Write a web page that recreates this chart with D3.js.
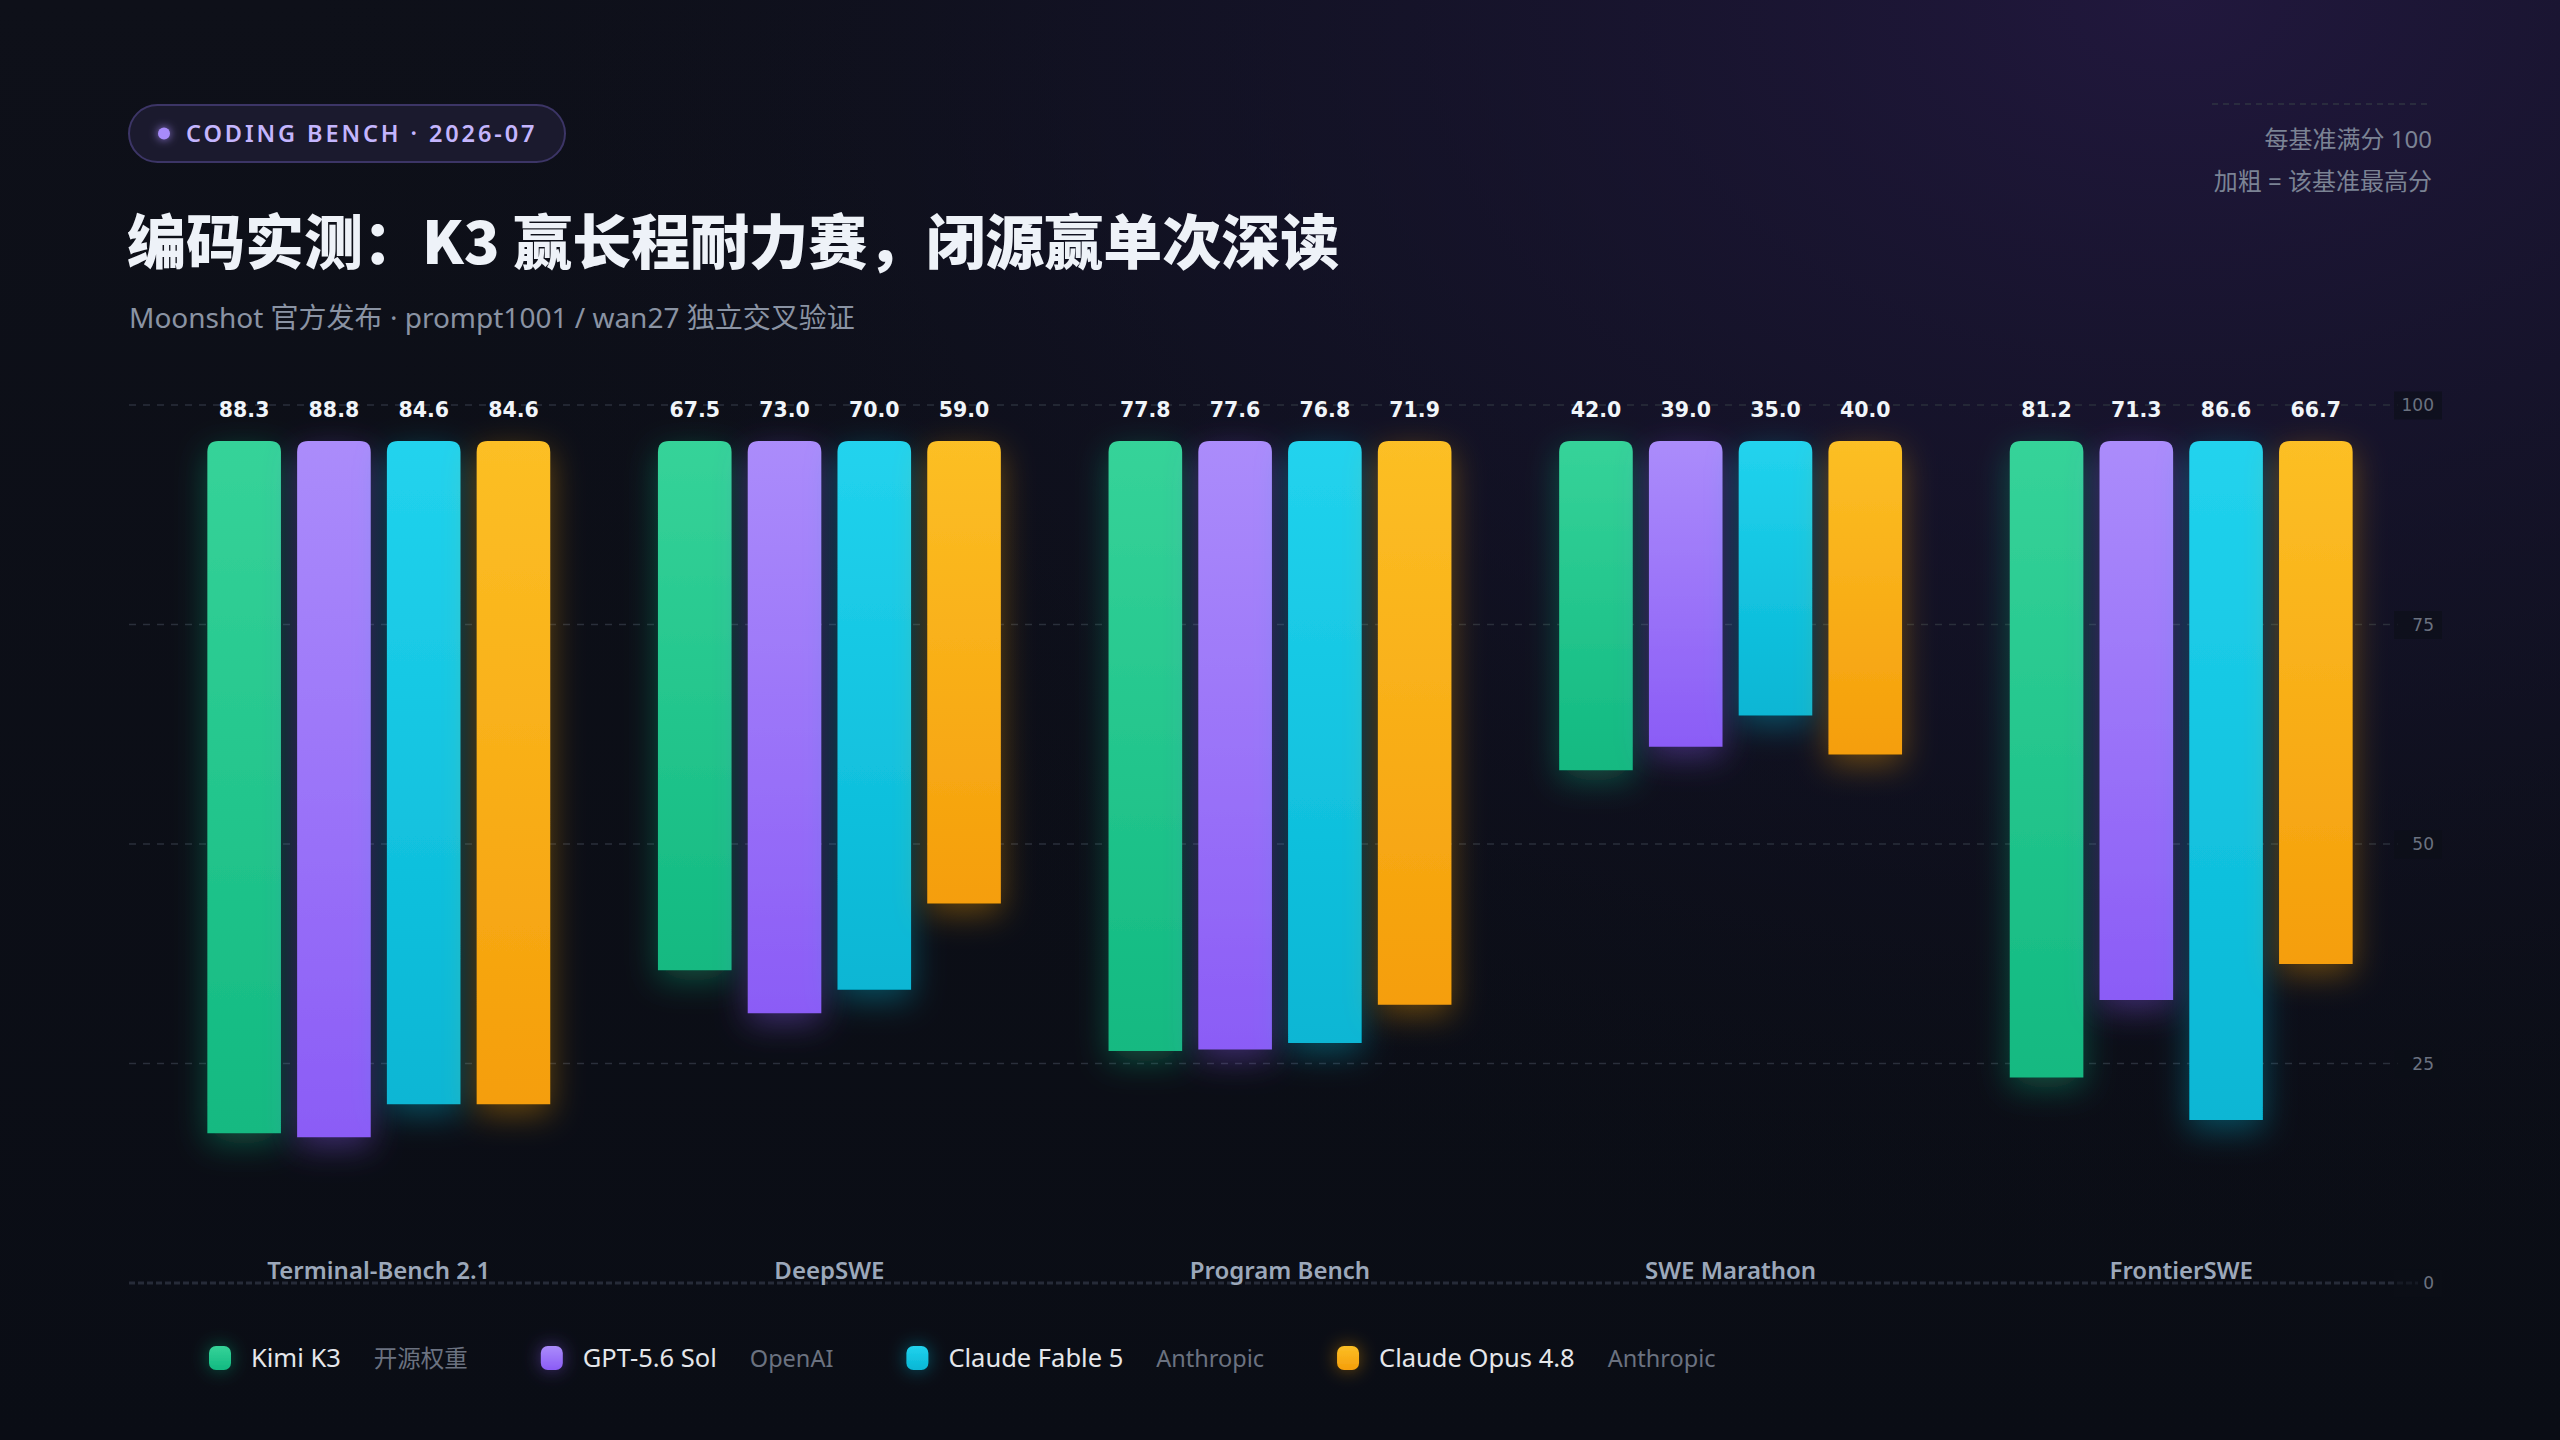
<!DOCTYPE html>
<html>
<head>
<meta charset="utf-8">
<script src="https://cdn.jsdelivr.net/npm/d3@7/dist/d3.min.js"></script>
<style>
html,body{margin:0;padding:0;background:#0b0e16;overflow:hidden;}
svg{display:block;}
</style>
</head>
<body>
<svg id="chart" width="2560" height="1440"></svg>
<script>
// ---------- data ----------
const benchmarks = ["Terminal-Bench 2.1", "DeepSWE", "Program Bench", "SWE Marathon", "FrontierSWE"];
const models = ["Kimi K3", "GPT-5.6 Sol", "Claude Fable 5", "Claude Opus 4.8"];
const orgs = ["开源权重", "OpenAI", "Anthropic", "Anthropic"];
const kimiK3 = [88.3, 67.5, 77.8, 42.0, 81.2];
const gpt56Sol = [88.8, 73.0, 77.6, 39.0, 71.3];
const claudeFable5 = [84.6, 70.0, 76.8, 35.0, 86.6];
const claudeOpus48 = [84.6, 59.0, 71.9, 40.0, 66.7];
const yTicks = [0, 25, 50, 75, 100];
const seriesValues = [kimiK3, gpt56Sol, claudeFable5, claudeOpus48];

const colorsTop = ["#36d399", "#ab8cfb", "#22d3ee", "#fcbf25"];
const colorsBot = ["#12b981", "#8b5cf6", "#07b6d4", "#f59e0b"];

const W = 2560, H = 1440;
const svg = d3.select("#chart");
const defs = svg.append("defs");

// background
const bg = defs.append("linearGradient").attr("id", "bg").attr("x1", 0).attr("y1", 0).attr("x2", 0).attr("y2", 1);
bg.append("stop").attr("offset", 0).attr("stop-color", "#0e1019");
bg.append("stop").attr("offset", 1).attr("stop-color", "#0a0d15");
const rg = defs.append("radialGradient").attr("id", "rg").attr("cx", 0.85).attr("cy", 0).attr("r", 0.75)
  .attr("gradientTransform", "translate(0.85 0) scale(1 1.2) translate(-0.85 0)");
rg.append("stop").attr("offset", 0).attr("stop-color", "#22183f").attr("stop-opacity", 0.95);
rg.append("stop").attr("offset", 0.55).attr("stop-color", "#171430").attr("stop-opacity", 0.45);
rg.append("stop").attr("offset", 1).attr("stop-color", "#0b0e16").attr("stop-opacity", 0);
svg.append("rect").attr("width", W).attr("height", H).attr("fill", "url(#bg)");
svg.append("rect").attr("width", W).attr("height", H).attr("fill", "url(#rg)");

// gradients + glow filters per series
models.forEach((m, i) => {
  const g = defs.append("linearGradient").attr("id", "grad" + i).attr("x1", 0).attr("y1", 0).attr("x2", 0).attr("y2", 1);
  g.append("stop").attr("offset", 0).attr("stop-color", colorsTop[i]);
  g.append("stop").attr("offset", 1).attr("stop-color", colorsBot[i]);
  const f = defs.append("filter").attr("id", "glow" + i).attr("x", "-80%").attr("y", "-30%").attr("width", "260%").attr("height", "160%");
  f.append("feDropShadow").attr("dx", 0).attr("dy", 10).attr("stdDeviation", 16)
    .attr("flood-color", colorsBot[i]).attr("flood-opacity", 0.38);
  const f2 = defs.append("filter").attr("id", "sglow" + i).attr("x", "-200%").attr("y", "-200%").attr("width", "500%").attr("height", "500%");
  f2.append("feDropShadow").attr("dx", 0).attr("dy", 0).attr("stdDeviation", 9)
    .attr("flood-color", colorsBot[i]).attr("flood-opacity", 0.45);
});
const dotGlow = defs.append("filter").attr("id", "dotglow").attr("x", "-300%").attr("y", "-300%").attr("width", "700%").attr("height", "700%");
dotGlow.append("feDropShadow").attr("dx", 0).attr("dy", 0).attr("stdDeviation", 5).attr("flood-color", "#a78bfa").attr("flood-opacity", 0.9);

const latin = "'Noto Sans', 'Noto Sans CJK SC', sans-serif";
const cjk = "'Noto Sans CJK SC', 'Noto Sans', sans-serif";

// ---------- header ----------
const pill = svg.append("g");
pill.append("rect").attr("x", 129).attr("y", 105).attr("width", 436).attr("height", 57).attr("rx", 28.5)
  .attr("fill", "#1b1a2e").attr("stroke", "#3c3566").attr("stroke-width", 2);
pill.append("circle").attr("cx", 164).attr("cy", 133.5).attr("r", 6).attr("fill", "#a78bfa").attr("filter", "url(#dotglow)");
pill.append("text").attr("x", 186).attr("y", 142).attr("font-family", latin).attr("font-size", 23.5)
  .attr("font-weight", 600).attr("letter-spacing", 2.9).attr("fill", "#c4b5fd").text("CODING BENCH · 2026-07");

svg.append("text").attr("x", 127).attr("y", 264).attr("font-family", cjk).attr("font-size", 59)
  .attr("font-weight", 900).attr("fill", "#eef2f8").text("编码实测：K3 赢长程耐力赛，闭源赢单次深读");

svg.append("text").attr("x", 129).attr("y", 328).attr("font-family", latin).attr("font-size", 28)
  .attr("fill", "#8a93a3").text("Moonshot 官方发布 · prompt1001 / wan27 独立交叉验证");

svg.append("line").attr("x1", 2212).attr("x2", 2432).attr("y1", 104).attr("y2", 104)
  .attr("stroke", "#2f3542").attr("stroke-width", 1.5).attr("stroke-dasharray", "6 5");
svg.append("text").attr("x", 2432).attr("y", 148).attr("text-anchor", "end").attr("font-family", latin)
  .attr("font-size", 24).attr("fill", "#7b8394").text("每基准满分 100");
svg.append("text").attr("x", 2432).attr("y", 190).attr("text-anchor", "end").attr("font-family", latin)
  .attr("font-size", 24).attr("fill", "#7b8394").text("加粗 = 该基准最高分");

// ---------- scales ----------
const y = d3.scaleLinear().domain([0, 100]).range([1283, 405]);
const barTop = 441;
const len = d3.scaleLinear().domain([0, 100]).range([0, 784]);
const x0 = d3.scaleBand().domain(benchmarks).range([153.5, 2406.5]);
const x1 = d3.scaleBand().domain(models).range([53.85, 396.75]).paddingInner(0.18).paddingOuter(0);

// grid
const grid = svg.append("g");
yTicks.filter(t => t > 0).forEach(t => {
  grid.append("line").attr("x1", 129).attr("x2", 2398).attr("y1", y(t)).attr("y2", y(t))
    .attr("stroke", "#2a2f3b").attr("stroke-width", 1.5).attr("stroke-dasharray", "7 7");
});
grid.append("line").attr("x1", 129).attr("x2", 2418).attr("y1", y(0)).attr("y2", y(0))
  .attr("stroke", "#262b38").attr("stroke-width", 3).attr("stroke-dasharray", "6 3");

// tick labels (right axis)
const axisG = svg.append("g").attr("transform", "translate(2434,0)");
const axis = d3.axisRight(y).tickValues(yTicks).tickSize(0).tickPadding(0);
axisG.call(axis);
axisG.select(".domain").remove();
axisG.selectAll(".tick").each(function () {
  const t = d3.select(this);
  t.insert("rect", "text").attr("x", -40).attr("y", -14).attr("width", 48).attr("height", 28).attr("fill", "#0c0f18").attr("opacity", 0.6);
});
axisG.selectAll("text").attr("text-anchor", "end").attr("x", 0).attr("dy", "0.35em")
  .attr("font-family", "'DejaVu Sans', sans-serif").attr("font-size", 17).attr("fill", "#6b7280");

// bars
function topRoundedRect(x, yTop, w, h, r) {
  r = Math.min(r, w / 2, h);
  return `M${x},${yTop + h}V${yTop + r}Q${x},${yTop} ${x + r},${yTop}H${x + w - r}Q${x + w},${yTop} ${x + w},${yTop + r}V${yTop + h}Z`;
}
const groups = svg.append("g").selectAll("g").data(benchmarks).join("g")
  .attr("transform", d => `translate(${x0(d)},0)`);

groups.each(function (b, bi) {
  const g = d3.select(this);
  const data = models.map((m, mi) => ({ m, mi, v: seriesValues[mi][bi] }));
  g.selectAll("path.bar").data(data).join("path").attr("class", "bar")
    .attr("d", d => topRoundedRect(x1(d.m), barTop, x1.bandwidth(), len(d.v), 11))
    .attr("fill", d => `url(#grad${d.mi})`).attr("filter", d => `url(#glow${d.mi})`);
  g.selectAll("text.val").data(data).join("text").attr("class", "val")
    .attr("x", d => x1(d.m) + x1.bandwidth() / 2).attr("y", 417).attr("text-anchor", "middle")
    .attr("font-family", "'DejaVu Sans', sans-serif").attr("font-weight", 700).attr("font-size", 20.5)
    .attr("fill", "#f1f5f9").text(d => d.v.toFixed(1));
  g.append("text").attr("x", x0.bandwidth() / 2).attr("y", 1279).attr("text-anchor", "middle")
    .attr("font-family", latin).attr("font-weight", 600).attr("font-size", 24).attr("fill", "#9ca8ba").text(b);
});

// legend
const legend = svg.append("g").attr("transform", "translate(209,1358)");
let lx = 0;
models.forEach((m, i) => {
  const it = legend.append("g").attr("transform", `translate(${lx},0)`);
  it.append("rect").attr("x", 0).attr("y", -12).attr("width", 22).attr("height", 24).attr("rx", 7)
    .attr("fill", `url(#grad${i})`).attr("filter", `url(#sglow${i})`);
  const name = it.append("text").attr("x", 42).attr("y", 9).attr("font-family", latin).attr("font-size", 25.5)
    .attr("fill", "#e5e7eb").text(m);
  const nw = name.node().getComputedTextLength();
  const sub = it.append("text").attr("x", 42 + nw + 33).attr("y", 9).attr("font-family", latin).attr("font-size", 23.5)
    .attr("fill", "#6b7280").text(orgs[i]);
  const sw = sub.node().getComputedTextLength();
  lx += 42 + nw + 33 + sw + 73;
});
</script>
</body>
</html>
